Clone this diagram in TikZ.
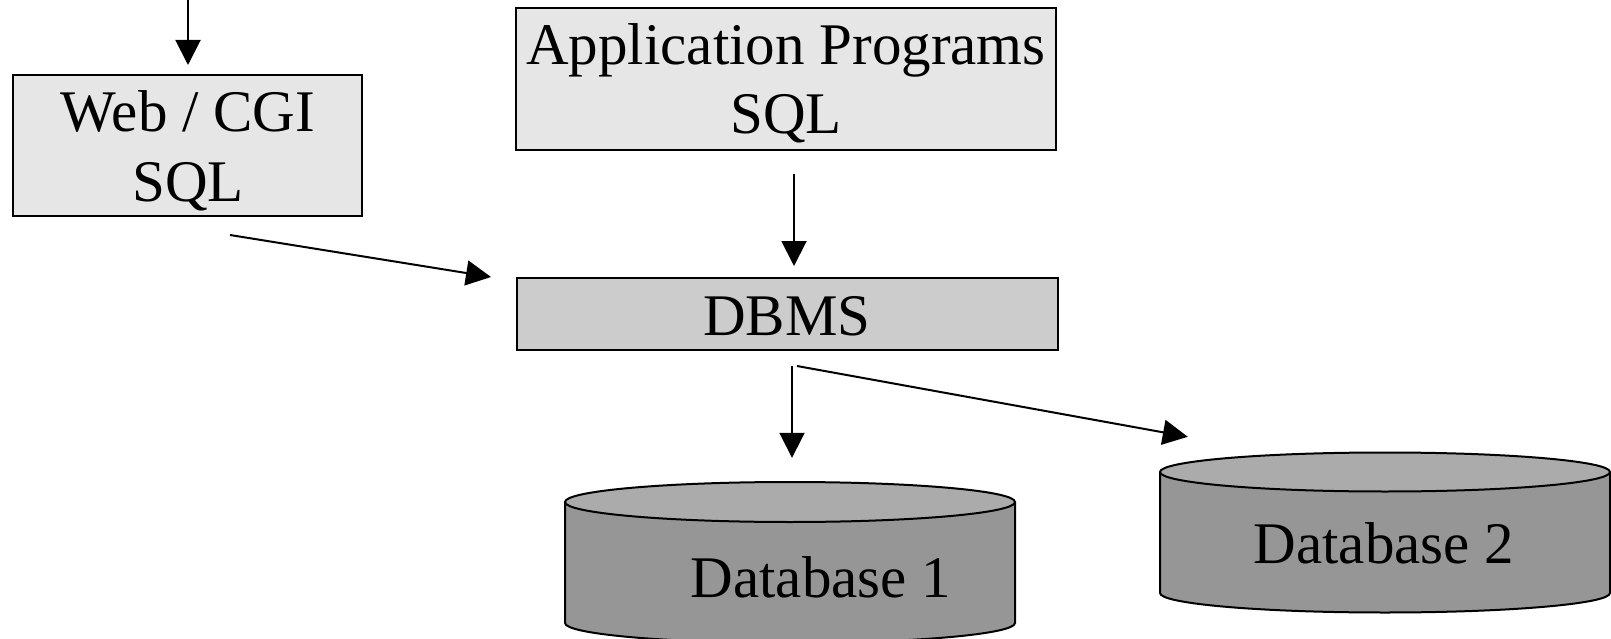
\documentclass[tikz,border=0pt]{standalone}
\usepackage{fontspec}
\setmainfont{Liberation Serif}
\usetikzlibrary{arrows.meta,calc}
\definecolor{boxlight}{HTML}{E6E6E6}
\definecolor{boxdbms}{HTML}{CCCCCC}
\definecolor{cylbody}{HTML}{969696}
\definecolor{cyltop}{HTML}{ABABAB}
\tikzset{
  box/.style={draw=black, line width=2pt, inner sep=0pt, rectangle},
  lbl/.style={anchor=base, inner sep=0pt, font=\fontsize{59}{71}\selectfont},
  arr/.style={line width=2pt, -{Triangle[length=25pt,width=25pt]}},
  cyl/.style={draw=black, line width=2pt},
  ghost/.style={inner sep=0pt, rectangle}
}
\begin{document}
\begin{tikzpicture}[x=1pt,y=-1pt]
\useasboundingbox (0,0) rectangle (1611,639);
% boxes
\node[box, fill=boxlight, minimum width=349pt, minimum height=141pt] (web) at (187.5,145.5) {};
\node[lbl] (webt1) at (188,132) {Web / CGI};
\node[lbl] (webt2) at (188,201) {SQL};
\node[box, fill=boxlight, minimum width=540pt, minimum height=142pt] (app) at (786,79) {};
\node[lbl] (appt1) at (786,65) {Application Programs};
\node[lbl] (appt2) at (786,134) {SQL};
\node[box, fill=boxdbms, minimum width=541pt, minimum height=72pt] (dbms) at (787.5,314) {};
\node[lbl] (dbmst) at (787,335) {DBMS};
% cylinders
\node[ghost, minimum width=450pt, minimum height=161pt] (db1) at (790,562.5) {};
\fill[cylbody] (565,502) -- (565,623) arc[start angle=180, end angle=0, x radius=225, y radius=20] -- (1015,502) -- cycle;
\draw[cyl] (565,502) -- (565,623) arc[start angle=180, end angle=0, x radius=225, y radius=20] -- (1015,502);
\draw[cyl, fill=cyltop] (790,502) ellipse[x radius=225, y radius=20];
\node[lbl] (db1t) at (821,597) {Database 1};
\node[ghost, minimum width=450pt, minimum height=160pt] (db2) at (1385,532) {};
\fill[cylbody] (1160,472) -- (1160,593) arc[start angle=180, end angle=0, x radius=225, y radius=19.5] -- (1610,472) -- cycle;
\draw[cyl] (1160,472) -- (1160,593) arc[start angle=180, end angle=0, x radius=225, y radius=19.5] -- (1610,472);
\draw[cyl, fill=cyltop] (1385,472) ellipse[x radius=225, y radius=19.5];
\node[lbl] (db2t) at (1384,563) {Database 2};
% connectors
\coordinate (topin) at (188,0);
\draw[arr] (topin) -- ($(web.north)+(0.5,-9)$);
\draw[arr] ($(app.south)+(8,23)$) -- ($(dbms.north)+(6.5,-11)$);
\draw[arr] ($(web.south)+(42.5,18)$) -- ($(dbms.west)+(-25,-37)$);
\draw[arr] ($(dbms.south)+(4.5,15)$) -- ($(db1.north)+(2,-24)$);
\draw[arr] ($(dbms.south)+(9.5,15)$) -- ($(db2.north west)+(28,-15)$);
\end{tikzpicture}
\end{document}
